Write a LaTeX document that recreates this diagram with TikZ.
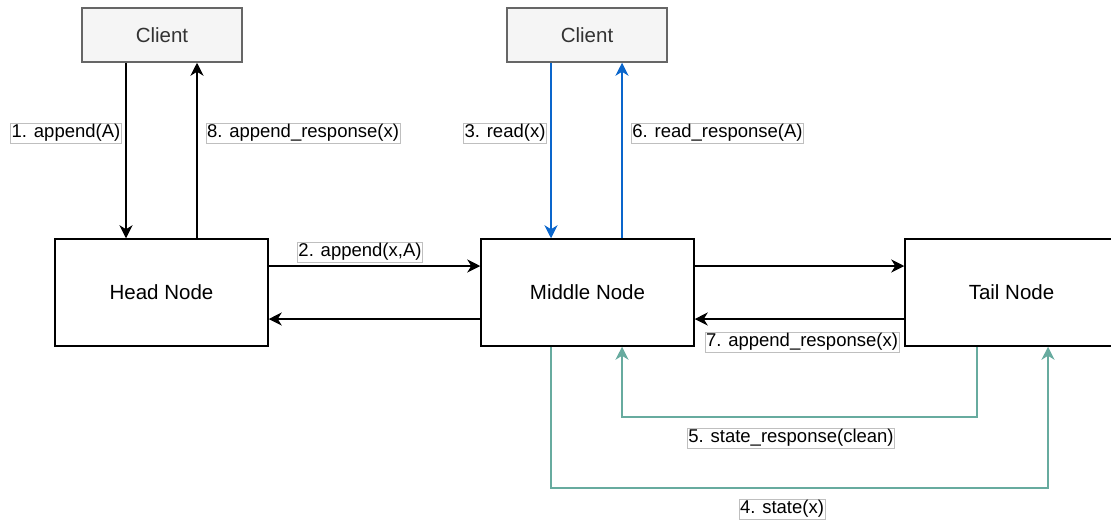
\documentclass[tikz,border=0pt]{standalone}
\usepackage{fontspec}
\setmainfont{Liberation Sans}
\usetikzlibrary{arrows.meta}
\definecolor{bluearr}{HTML}{0A66CC}
\definecolor{greenarr}{HTML}{67AB9F}
\definecolor{clientfill}{HTML}{F5F5F5}
\definecolor{clientdraw}{HTML}{666666}
\definecolor{clienttext}{HTML}{333333}
\tikzset{
  nodebox/.style={draw=black, line width=1.5pt, fill=white, minimum width=213pt, minimum height=107pt, inner sep=0pt, font=\fontsize{20.5}{24}\selectfont},
  clientbox/.style={draw=clientdraw, line width=1.5pt, fill=clientfill, minimum width=160pt, minimum height=54pt, inner sep=0pt, text=clienttext, font=\fontsize{20.5}{24}\selectfont},
  arr/.style={line width=1.4pt, -{Stealth[length=13pt,width=13pt,inset=4pt]}},
  lbl/.style={draw=black!25, line width=0.6pt, fill=white, inner xsep=1pt, inner ysep=1.5pt, font=\fontsize{18.5}{21}\selectfont}
}
\begin{document}
\begin{tikzpicture}[x=1pt,y=-1pt]
\useasboundingbox (0,0) rectangle (1111,523);
\begin{scope}
\clip (0,0) rectangle (1111,523);
\node[clientbox] (c1) at (162,35) {Client};
\node[clientbox] (c2) at (587,35) {Client};
\node[nodebox] (head) at (161.5,292.5) {Head Node};
\node[nodebox] (mid) at (587.5,292.5) {Middle Node};
\node[nodebox] (tail) at (1011.5,292.5) {Tail Node};

% client 1 <-> head
\draw[arr] (c1.south -| 126,0) -- (head.north -| 126,0);
\draw[arr] (head.north -| 197,0) -- (c1.south -| 197,0);
% client 2 <-> middle
\draw[arr, draw=bluearr] (c2.south -| 551,0) -- (mid.north -| 551,0);
\draw[arr, draw=bluearr] (mid.north -| 622,0) -- (c2.south -| 622,0);
% head <-> middle
\draw[arr] (head.east |- 0,266) -- (mid.west |- 0,266);
\draw[arr] (mid.west |- 0,319) -- (head.east |- 0,319);
% middle <-> tail
\draw[arr] (mid.east |- 0,266) -- (tail.west |- 0,266);
\draw[arr] (tail.west |- 0,319) -- (mid.east |- 0,319);
% green state connectors
\coordinate (t5a) at (977,417);
\coordinate (t5b) at (622,417);
\draw[arr, draw=greenarr] (tail.south -| 977,0) -- (t5a) -- (t5b) -- (mid.south -| 622,0);
\coordinate (s4a) at (551,488);
\coordinate (s4b) at (1048,488);
\draw[arr, draw=greenarr] (mid.south -| 551,0) -- (s4a) -- (s4b) -- (tail.south -| 1048,0);

% labels
\node[lbl] (l1) at (66,133) {1. append(A)};
\node[lbl] (l8) at (303,133) {8. append\_response(x)};
\node[lbl] (l3) at (505,133) {3. read(x)};
\node[lbl] (l6) at (717.5,133) {6. read\_response(A)};
\node[lbl] (l2) at (360,252) {2. append(x,A)};
\node[lbl] (l7) at (802,342) {7. append\_response(x)};
\node[lbl] (l5) at (791,438) {5. state\_response(clean)};
\node[lbl] (l4) at (782,509) {4. state(x)};
\end{scope}
\end{tikzpicture}
\end{document}
